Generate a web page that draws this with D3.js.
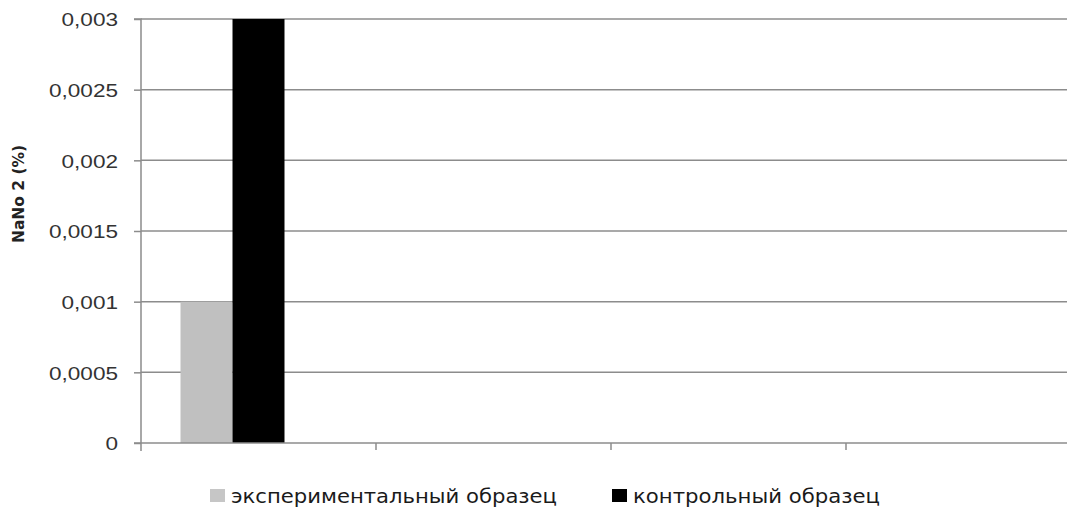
<!DOCTYPE html>
<html>
<head>
<meta charset="utf-8">
<script src="https://cdn.jsdelivr.net/npm/d3@7/dist/d3.min.js"></script>
<style>
  html, body { margin: 0; padding: 0; background: #fff; }
  svg { display: block; font-family: "DejaVu Sans", Verdana, sans-serif; }
</style>
</head>
<body>
<svg id="chart" width="1067" height="508"></svg>
<script>
// ---- data ----
const categories = ["1", "2", "3", "4"];
const seriesNames = ["экспериментальный образец", "контрольный образец"];
const experimental = [0.001, null, null, null];
const control = [0.003, null, null, null];
const yTicks = [0, 0.0005, 0.001, 0.0015, 0.002, 0.0025, 0.003];
const yTickLabels = ["0", "0,0005", "0,001", "0,0015", "0,002", "0,0025", "0,003"];
const yTitle = "NaNo 2 (%)";
const seriesColors = ["#c0c0c0", "#000000"];
const slotCount = 3; // chart reserves three bar slots per category

(function () {
const svg = d3.select("#chart");
const mLeft = 141, mTop = 19, mBottom = 443, plotRight = 1081;

const x0 = d3.scaleBand().domain(categories).range([mLeft, plotRight]).paddingInner(0).paddingOuter(0);
const x1 = d3.scaleBand().domain(d3.range(slotCount)).range([0, x0.bandwidth()]).paddingInner(0).paddingOuter(0.76);
const y = d3.scaleLinear().domain([0, 0.003]).range([mBottom, mTop]);

const gridColor = "#8c8c8c";

// gridlines
svg.append("g").selectAll("line").data(yTicks.filter(d => d > 0)).join("line")
  .attr("x1", mLeft).attr("x2", 1067)
  .attr("y1", d => y(d)).attr("y2", d => y(d))
  .attr("stroke", gridColor).attr("stroke-width", 1.5);

// bars
const series = [experimental, control];
series.forEach((vals, si) => {
  svg.append("g").selectAll("rect")
    .data(categories.map((c, i) => ({c, v: vals[i]})).filter(d => d.v != null))
    .join("rect")
    .attr("x", d => x0(d.c) + x1(si))
    .attr("width", x1.bandwidth())
    .attr("y", d => y(d.v))
    .attr("height", d => y(0) - y(d.v))
    .attr("fill", seriesColors[si]);
});

// y axis
const yAxis = d3.axisLeft(y).tickValues(yTicks).tickSize(7).tickFormat((d, i) => yTickLabels[i]);
const gy = svg.append("g").attr("transform", `translate(${mLeft},0)`).call(yAxis);
gy.select(".domain").attr("stroke", gridColor).attr("stroke-width", 1.5).attr("d", `M-7,${mTop}H0V${mBottom + 8}`);
gy.selectAll(".tick line").attr("stroke", gridColor).attr("stroke-width", 1.5);
gy.selectAll(".tick text").remove();
gy.selectAll(".tick").append("text")
  .attr("transform", "translate(-23,0) scale(1.22,1)")
  .attr("text-anchor", "end")
  .attr("dy", "0.36em")
  .attr("fill", "#333")
  .style("font-size", "18.5px")
  .text((d, i) => yTickLabels[i]);

// x axis
const xAxis = d3.axisBottom(x0).tickSize(0).tickFormat(() => "");
const gx = svg.append("g").attr("transform", `translate(0,${mBottom})`).call(xAxis);
gx.select(".domain").attr("stroke", gridColor).attr("stroke-width", 1.5).attr("d", `M${mLeft - 7},0H${plotRight}`);
gx.selectAll(".tick").remove();
gx.selectAll("line.bound").data(categories.slice(1)).join("line")
  .attr("class", "bound")
  .attr("x1", d => x0(d)).attr("x2", d => x0(d))
  .attr("y1", 0).attr("y2", 7)
  .attr("stroke", gridColor).attr("stroke-width", 1.5);

// y title
svg.append("text")
  .attr("transform", `translate(19,${(145 + 243) / 2}) rotate(-90)`)
  .attr("text-anchor", "middle")
  .attr("dy", "0.35em")
  .attr("font-weight", "bold")
  .attr("fill", "#222")
  .style("font-size", "15px")
  .attr("textLength", 98)
  .attr("lengthAdjust", "spacingAndGlyphs")
  .text(yTitle);

// legend
const legendX = [210, 612];
const legendW = [326, 247];
const lg = svg.append("g").selectAll("g").data(seriesNames).join("g")
  .attr("transform", (d, i) => `translate(${legendX[i]},489)`);
lg.append("rect").attr("width", 15).attr("height", 13).attr("fill", (d, i) => i === 0 ? "#c6c6c6" : seriesColors[i]);
lg.append("text")
  .attr("x", 21).attr("y", 14)
  .attr("fill", "#1a1a1a")
  .style("font-size", "19px")
  .attr("textLength", (d, i) => legendW[i])
  .attr("lengthAdjust", "spacingAndGlyphs")
  .text(d => d);
})();
</script>
</body>
</html>
